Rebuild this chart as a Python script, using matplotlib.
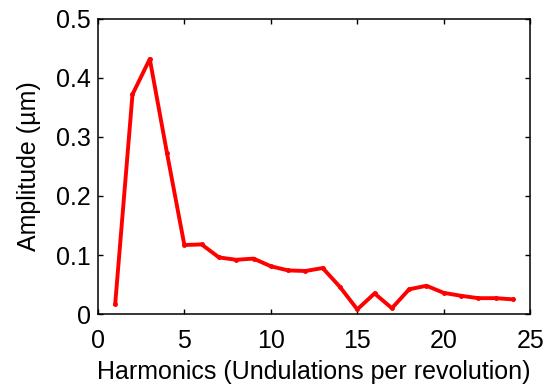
import numpy as np
import matplotlib.pyplot as plt

plt.rcParams['font.family'] = ['Liberation Sans', 'DejaVu Sans']

harmonics = np.arange(1, 25)
amplitude = [0.017, 0.372, 0.432, 0.272, 0.117, 0.118, 0.096, 0.092, 0.094,
             0.081, 0.074, 0.073, 0.078, 0.046, 0.008, 0.035, 0.010, 0.042,
             0.048, 0.036, 0.031, 0.027, 0.027, 0.025]

fig = plt.figure(figsize=(5.5, 3.84), dpi=100)
ax = fig.add_axes([0.178, 0.182, 0.786, 0.769])
ax.plot(harmonics, amplitude, color='red', linewidth=2.8, marker='.', markersize=5)
ax.set_xlim(0, 25)
ax.set_ylim(0, 0.5)
ax.set_xticks([0, 5, 10, 15, 20, 25])
ax.set_yticks([0, 0.1, 0.2, 0.3, 0.4, 0.5])
ax.set_yticklabels(['0', '0.1', '0.2', '0.3', '0.4', '0.5'])
ax.tick_params(direction='in', top=True, right=True, labelsize=18, length=3.5, width=1.0)
ax.tick_params(axis='x', pad=10.5)
ax.tick_params(axis='y', pad=5)
ax.set_xlabel('Harmonics (Undulations per revolution)', fontsize=18, labelpad=5.5)
ax.set_ylabel('Amplitude (\u00b5m)', fontsize=18, labelpad=11)
for s in ax.spines.values():
    s.set_linewidth(1.1)

fig.savefig('out.png', dpi=100)
